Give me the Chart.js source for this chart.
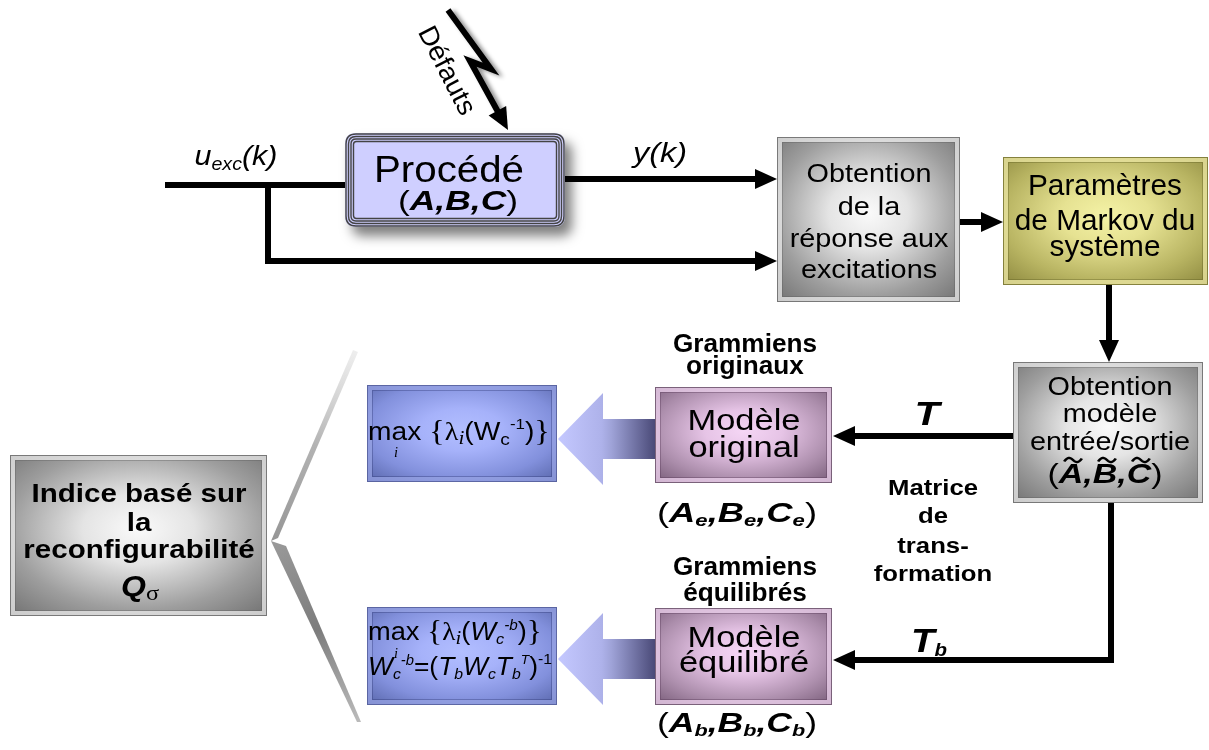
<!DOCTYPE html>
<html><head><meta charset="utf-8">
<script src="https://cdn.jsdelivr.net/npm/chart.js@4.4.1/dist/chart.umd.min.js"></script>
<style>html,body{margin:0;padding:0;background:#fff;overflow:hidden}#wrap{width:1209px;height:750px;position:relative}</style>
</head><body><div id="wrap"><canvas id="c"></canvas></div>
<script>
// ---------------- DATA (diagram units: x 0..1209, y 0..750 downward) ----------------
const boxNames  = ['Procédé','Obtention réponse','Markov','Obtention modèle','Modèle original','Modèle équilibré','max original','max équilibré','Indice'];
const boxLeft   = [345, 777, 1003, 1013, 655, 655, 367, 367, 10];
const boxRight  = [565, 960, 1208, 1203, 832, 832, 557, 557, 267];
const boxTop    = [133, 137, 157, 362, 387, 608, 385, 607, 455];
const boxBottom = [227, 302, 285, 503, 483, 705, 482, 705, 616];
const boxTheme  = ['process','gray','olive','gray','purple','purple','blue','blue','gray'];

// connectors (polyline points); last point is the arrow tip when wireArrow is true
const wireX = [[165,345],[268,268,777],[565,777],[960,1003],[1109,1109],[1013,833],[1111,1111,833],[448,491,470,508]];
const wireY = [[185,185],[185,261,261],[179,179],[222,222],[285,362],[436,436],[503,660,660],[10,69,61,130]];
const wireArrow = [false,true,true,true,true,true,true,true];

// fat grey-blue arrows (model -> criterion)
const fatTipX = [558, 558];
const fatMidY = [439, 659];

// text blocks
const obt1Lines    = ['Obtention','de la','réponse aux','excitations'];
const markovLines  = ['Paramètres','de Markov du','système'];
const obtmLines    = ['Obtention','modèle','entrée/sortie'];
const origLines    = ['Modèle','original'];
const equLines     = ['Modèle','équilibré'];
const gramOrigLines= ['Grammiens','originaux'];
const gramEquLines = ['Grammiens','équilibrés'];
const matriceLines = ['Matrice','de','trans-','formation'];
const indiceLines  = ['Indice basé sur','la','reconfigurabilité'];

// ---------------- rendering helpers ----------------
const SANS = '"Liberation Sans", Arial, sans-serif';
const SERIF = '"Liberation Serif", "DejaVu Serif", serif';
function F(size, weight, style, fam){ return (style||'normal')+' '+(weight||'normal')+' '+size+'px '+(fam||SANS); }

const THEMES = {
  gray:   {stops:['#fafafa','#e4e4e4','#9e9e9e','#727272'], frame:'rgba(235,235,235,0.75)', edge:'rgba(120,120,120,0.9)', inner:'rgba(90,90,90,0.35)'},
  olive:  {stops:['#f4f2a6','#e6e292','#b8b462','#8c883e'], frame:'rgba(232,228,160,0.8)', edge:'rgba(130,126,60,0.9)', inner:'rgba(90,88,30,0.35)'},
  purple: {stops:['#f5d6f5','#e6c4e6','#ac8eac','#785c78'], frame:'rgba(232,205,232,0.8)', edge:'rgba(120,95,120,0.9)', inner:'rgba(80,50,80,0.35)'},
  blue:   {stops:['#b2beff','#a6b2fa','#8290dc','#5866aa'], frame:'rgba(150,162,225,0.75)', edge:'rgba(90,100,160,0.9)', inner:'rgba(40,50,110,0.35)'}
};

function roundRect(ctx,x,y,w,h,r){
  ctx.beginPath();
  ctx.moveTo(x+r,y); ctx.lineTo(x+w-r,y); ctx.quadraticCurveTo(x+w,y,x+w,y+r);
  ctx.lineTo(x+w,y+h-r); ctx.quadraticCurveTo(x+w,y+h,x+w-r,y+h);
  ctx.lineTo(x+r,y+h); ctx.quadraticCurveTo(x,y+h,x,y+h-r);
  ctx.lineTo(x,y+r); ctx.quadraticCurveTo(x,y,x+r,y); ctx.closePath();
}

function drawBox(ctx,x0,y0,x1,y1,theme){
  const w=x1-x0,h=y1-y0,cx=(x0+x1)/2,cy=(y0+y1)/2;
  if(theme==='process'){
    ctx.save();
    ctx.shadowColor='rgba(0,0,0,0.5)'; ctx.shadowBlur=12; ctx.shadowOffsetX=7; ctx.shadowOffsetY=9;
    roundRect(ctx,x0,y0,w,h,11); ctx.fillStyle='#cfcfff'; ctx.fill();
    ctx.restore();
    ctx.save();
    const ins=[1,3.5,6,8.5];
    ctx.lineWidth=1.4;
    for(let i=0;i<ins.length;i++){
      const d=ins[i];
      roundRect(ctx,x0+d,y0+d,w-2*d,h-2*d,Math.max(3,11-d));
      ctx.strokeStyle='#444'; ctx.stroke();
    }
    ctx.restore();
    return;
  }
  const th=THEMES[theme];
  ctx.save();
  ctx.translate(cx,cy); ctx.scale(w/2,h/2);
  const g=ctx.createRadialGradient(0,-0.08,0,0,-0.08,1.45);
  g.addColorStop(0,th.stops[0]); g.addColorStop(0.3,th.stops[1]); g.addColorStop(0.69,th.stops[2]); g.addColorStop(1,th.stops[3]);
  ctx.fillStyle=g; ctx.fillRect(-1,-1,2,2);
  ctx.restore();
  ctx.save();
  ctx.lineWidth=4; ctx.strokeStyle=th.frame; ctx.strokeRect(x0+3,y0+3,w-6,h-6);
  ctx.lineWidth=1; ctx.strokeStyle=th.edge; ctx.strokeRect(x0+0.5,y0+0.5,w-1,h-1);
  ctx.strokeStyle=th.inner; ctx.strokeRect(x0+5.5,y0+5.5,w-11,h-11);
  ctx.restore();
}

function drawTilde(ctx,x,y,w,h){
  ctx.save(); ctx.lineWidth=2.2; ctx.strokeStyle='#000'; ctx.beginPath();
  for(let i=0;i<=20;i++){ const t=i/20; const px=x+w*t, py=y-h*Math.sin(2*Math.PI*t)*(0.9)+ (t-0.5)*(-3);
    if(i===0) ctx.moveTo(px,py); else ctx.lineTo(px,py); }
  ctx.stroke(); ctx.restore();
}

// rich text, centred at cx, on baseline by, stretched to targetW
function rich(ctx,parts,cx,by,targetW){
  let total=0;
  parts.forEach(p=>{ctx.font=p.f; p.w=ctx.measureText(p.t).width; total+=p.w;});
  const sx=targetW?targetW/total:1;
  ctx.save(); ctx.translate(cx,by); ctx.scale(sx,1);
  ctx.textAlign='left'; ctx.textBaseline='alphabetic'; ctx.fillStyle='#000';
  let x=-total/2;
  parts.forEach(p=>{
    ctx.font=p.f; ctx.fillText(p.t,x,p.dy||0);
    if(p.tilde){ drawTilde(ctx,x+p.w*0.22,-p.tilde,p.w*0.72,3.2); }
    x+=p.w;
  });
  ctx.restore();
}

// multi-line block, all lines share the stretch computed from the first line width
function block(ctx,lines,cx,baselines,font,firstW){
  ctx.save(); ctx.font=font;
  const sx=firstW/ctx.measureText(lines[0]).width;
  ctx.textAlign='center'; ctx.textBaseline='alphabetic'; ctx.fillStyle='#000';
  lines.forEach((l,i)=>{ ctx.save(); ctx.translate(cx,baselines[i]); ctx.scale(sx,1); ctx.fillText(l,0,0); ctx.restore(); });
  ctx.restore();
}

// ---------------- plugin that draws the diagram through the chart scales ----------------
const diagram = {
  id:'diagram',
  beforeDatasetDraw(chart,args){
    const ctx=chart.ctx; ctx.save();
    if(args.index===7){ ctx.shadowColor='rgba(0,0,0,0.45)'; ctx.shadowBlur=4; ctx.shadowOffsetX=4; ctx.shadowOffsetY=2; }
  },
  afterDatasetDraw(chart){ chart.ctx.restore(); },
  beforeDatasetsDraw(chart){
    const ctx=chart.ctx, X=v=>chart.scales.x.getPixelForValue(v), Y=v=>chart.scales.y.getPixelForValue(v);
    // chevron (brace) joining the index box to both criteria
    ctx.save();
    let g=ctx.createLinearGradient(X(356),Y(350),X(272),Y(540));
    g.addColorStop(0,'rgba(200,200,200,0.3)'); g.addColorStop(0.5,'rgba(170,170,170,0.9)'); g.addColorStop(1,'rgba(150,150,150,1)');
    ctx.fillStyle=g; ctx.beginPath();
    ctx.moveTo(X(353),Y(350)); ctx.lineTo(X(358),Y(352)); ctx.lineTo(X(278),Y(538)); ctx.lineTo(X(271),Y(541)); ctx.closePath(); ctx.fill();
    g=ctx.createLinearGradient(X(272),Y(540),X(358),Y(722));
    g.addColorStop(0,'#9a9a9a'); g.addColorStop(0.5,'#7c7c7c'); g.addColorStop(1,'rgba(140,140,140,0.6)');
    ctx.fillStyle=g; ctx.beginPath();
    ctx.moveTo(X(271),Y(541)); ctx.lineTo(X(286),Y(546)); ctx.lineTo(X(361),Y(722)); ctx.lineTo(X(357),Y(722)); ctx.closePath(); ctx.fill();
    ctx.restore();
  },
  afterDatasetsDraw(chart){
    const ctx=chart.ctx, X=v=>chart.scales.x.getPixelForValue(v), Y=v=>chart.scales.y.getPixelForValue(v);
    // fat arrows
    fatTipX.forEach((tx,i)=>{
      const my=fatMidY[i];
      ctx.save();
      const g=ctx.createLinearGradient(X(tx),0,X(655),0);
      g.addColorStop(0,'#c4c8ff'); g.addColorStop(0.45,'#aeb2ea'); g.addColorStop(0.55,'#9fa3d8'); g.addColorStop(1,'#4a4a78');
      ctx.fillStyle=g; ctx.beginPath();
      ctx.moveTo(X(tx),Y(my)); ctx.lineTo(X(603),Y(my-46)); ctx.lineTo(X(603),Y(my-20));
      ctx.lineTo(X(655),Y(my-20)); ctx.lineTo(X(655),Y(my+20)); ctx.lineTo(X(603),Y(my+20));
      ctx.lineTo(X(603),Y(my+46)); ctx.closePath(); ctx.fill();
      ctx.restore();
    });
    // boxes
    boxNames.forEach((n,i)=>drawBox(ctx,X(boxLeft[i]),Y(boxTop[i]),X(boxRight[i]),Y(boxBottom[i]),boxTheme[i]));
    // arrow heads
    wireX.forEach((xs,i)=>{
      if(!wireArrow[i]) return;
      const ys=wireY[i], n=xs.length;
      const tx=X(xs[n-1]), ty=Y(ys[n-1]), px=X(xs[n-2]), py=Y(ys[n-2]);
      const L=Math.hypot(tx-px,ty-py), ux=(tx-px)/L, uy=(ty-py)/L;
      const hl=22, hw=10;
      ctx.save(); ctx.fillStyle='#000'; ctx.beginPath();
      ctx.moveTo(tx,ty); ctx.lineTo(tx-ux*hl-uy*hw,ty-uy*hl+ux*hw); ctx.lineTo(tx-ux*hl+uy*hw,ty-uy*hl-ux*hw); ctx.closePath(); ctx.fill(); ctx.restore();
    });
    // texts
    const s=(n,w,st,f)=>F(n,w,st,f);
    rich(ctx,[{t:'u',f:s(28,'normal','italic')},{t:'exc',f:s(18,'normal','italic'),dy:5},{t:'(k)',f:s(28,'normal','italic')}],X(236),Y(165),83);
    rich(ctx,[{t:'y(k)',f:s(27,'normal','italic')}],X(660),Y(162),54);
    // Défauts (rotated)
    ctx.save(); ctx.translate(X(446),Y(71)); ctx.rotate(Math.atan2(86,44));
    ctx.font=s(27); ctx.textAlign='center'; ctx.textBaseline='middle'; ctx.fillStyle='#000';
    const dw=ctx.measureText('Défauts').width; ctx.scale(96/dw,1); ctx.fillText('Défauts',0,0); ctx.restore();
    rich(ctx,[{t:'Procédé',f:s(37)}],X(449),Y(182),150);
    rich(ctx,[{t:'(',f:s(28)},{t:'A,B,C',f:s(28,'bold','italic')},{t:')',f:s(28)}],X(458),Y(210),120);
    block(ctx,obt1Lines,X(869),[Y(182),Y(215),Y(247),Y(278)],s(26),125);
    block(ctx,markovLines,X(1105),[Y(195),Y(230),Y(256)],s(29),154);
    block(ctx,obtmLines,X(1110),[Y(395),Y(422),Y(450)],s(26),125);
    rich(ctx,[{t:'(',f:s(27)},{t:'A',f:s(27,'bold','italic'),tilde:23},{t:',',f:s(27,'bold','italic')},{t:'B',f:s(27,'bold','italic'),tilde:23},{t:',',f:s(27,'bold','italic')},{t:'C',f:s(27,'bold','italic'),tilde:23},{t:')',f:s(27)}],X(1105),Y(483),115);
    rich(ctx,[{t:'T',f:s(34,'bold','italic')}],X(927),Y(425),25);
    rich(ctx,[{t:'T',f:s(34,'bold','italic')},{t:'b',f:s(18,'bold','italic'),dy:4}],X(929),Y(652),36);
    block(ctx,matriceLines,X(933),[Y(495),Y(523),Y(553),Y(581)],s(22,'bold'),90);
    block(ctx,gramOrigLines,X(745),[Y(352),Y(374)],s(25,'bold'),144);
    block(ctx,gramEquLines,X(745),[Y(575),Y(601)],s(25,'bold'),144);
    block(ctx,origLines,X(744),[Y(430),Y(457)],s(29),113);
    block(ctx,equLines,X(744),[Y(647),Y(672)],s(29),113);
    const sub=(c)=>[{t:'(',f:s(28)},{t:'A',f:s(28,'bold','italic')},{t:c,f:s(17,'bold','italic'),dy:4},{t:',',f:s(28,'bold','italic')},{t:'B',f:s(28,'bold','italic')},{t:c,f:s(17,'bold','italic'),dy:4},{t:',',f:s(28,'bold','italic')},{t:'C',f:s(28,'bold','italic')},{t:c,f:s(17,'bold','italic'),dy:4},{t:')',f:s(28)}];
    rich(ctx,sub('e'),X(737),Y(522),160);
    rich(ctx,sub('b'),X(737),Y(732),160);
    // criterion boxes
    rich(ctx,[{t:'max ',f:s(25)},{t:'{',f:s(29,'normal','normal',SERIF)},{t:'λ',f:s(25,'normal','normal',SERIF)},{t:'i',f:s(19,'normal','italic',SERIF),dy:4},{t:'(W',f:s(25)},{t:'c',f:s(17),dy:5},{t:'-1',f:s(15),dy:-11},{t:')',f:s(25)},{t:'}',f:s(29,'normal','normal',SERIF)}],X(459),Y(440),182);
    rich(ctx,[{t:'i',f:s(14,'normal','italic',SERIF)}],X(396),Y(457),4);
    rich(ctx,[{t:'max ',f:s(25)},{t:'{',f:s(29,'normal','normal',SERIF)},{t:'λ',f:s(25,'normal','normal',SERIF)},{t:'i',f:s(19,'normal','italic',SERIF),dy:4},{t:'(',f:s(25)},{t:'W',f:s(25,'normal','italic')},{t:'c',f:s(15,'normal','italic'),dy:4},{t:'-b',f:s(14,'normal','italic'),dy:-10},{t:')',f:s(25)},{t:'}',f:s(29,'normal','normal',SERIF)}],X(455),Y(640),174);
    rich(ctx,[{t:'i',f:s(14,'normal','italic',SERIF)}],X(396),Y(658),4);
    rich(ctx,[{t:'W',f:s(25,'normal','italic')},{t:'c',f:s(15,'normal','italic'),dy:4},{t:'-b',f:s(14,'normal','italic'),dy:-10},{t:'=(',f:s(25)},{t:'T',f:s(25,'normal','italic')},{t:'b',f:s(15,'normal','italic'),dy:4},{t:'W',f:s(25,'normal','italic')},{t:'c',f:s(15,'normal','italic'),dy:4},{t:'T',f:s(25,'normal','italic')},{t:'b',f:s(15,'normal','italic'),dy:4},{t:'T',f:s(13,'normal','italic'),dy:-11},{t:')',f:s(25)},{t:'-1',f:s(15),dy:-11}],X(460),Y(675),184);
    // index box
    block(ctx,indiceLines,X(139),[Y(502),Y(531),Y(558)],s(26,'bold'),215);
    rich(ctx,[{t:'Q',f:s(29,'bold','italic')},{t:'σ',f:s(22,'normal','normal',SERIF),dy:4}],X(140),Y(596),38);
  }
};

// ---------------- chart ----------------
const HEAD=22;
const datasets = wireX.map((xs,i)=>{
  const ys=wireY[i];
  const pts=xs.map((x,k)=>({x:x,y:ys[k]}));
  if(wireArrow[i]){
    const n=pts.length, a=pts[n-2], b=pts[n-1];
    const L=Math.hypot(b.x-a.x,b.y-a.y);
    pts[n-1]={x:b.x-(b.x-a.x)/L*(HEAD-2), y:b.y-(b.y-a.y)/L*(HEAD-2)};
  }
  return {label:'wire'+i,data:pts,showLine:true,borderColor:'#000',backgroundColor:'#000',borderWidth:6,
          pointRadius:0,pointHoverRadius:0,tension:0,fill:false,clip:false,borderCapStyle:'butt',borderJoinStyle:'miter'};
});

new Chart(document.getElementById('c'),{
  type:'scatter',
  data:{datasets},
  options:{
    responsive:true,maintainAspectRatio:false,animation:false,events:[],
    layout:{padding:0},
    plugins:{legend:{display:false},tooltip:{enabled:false},title:{display:false}},
    scales:{
      x:{type:'linear',min:0,max:1209,display:false},
      y:{type:'linear',min:0,max:750,reverse:true,display:false}
    }
  },
  plugins:[diagram]
});
</script></body></html>
